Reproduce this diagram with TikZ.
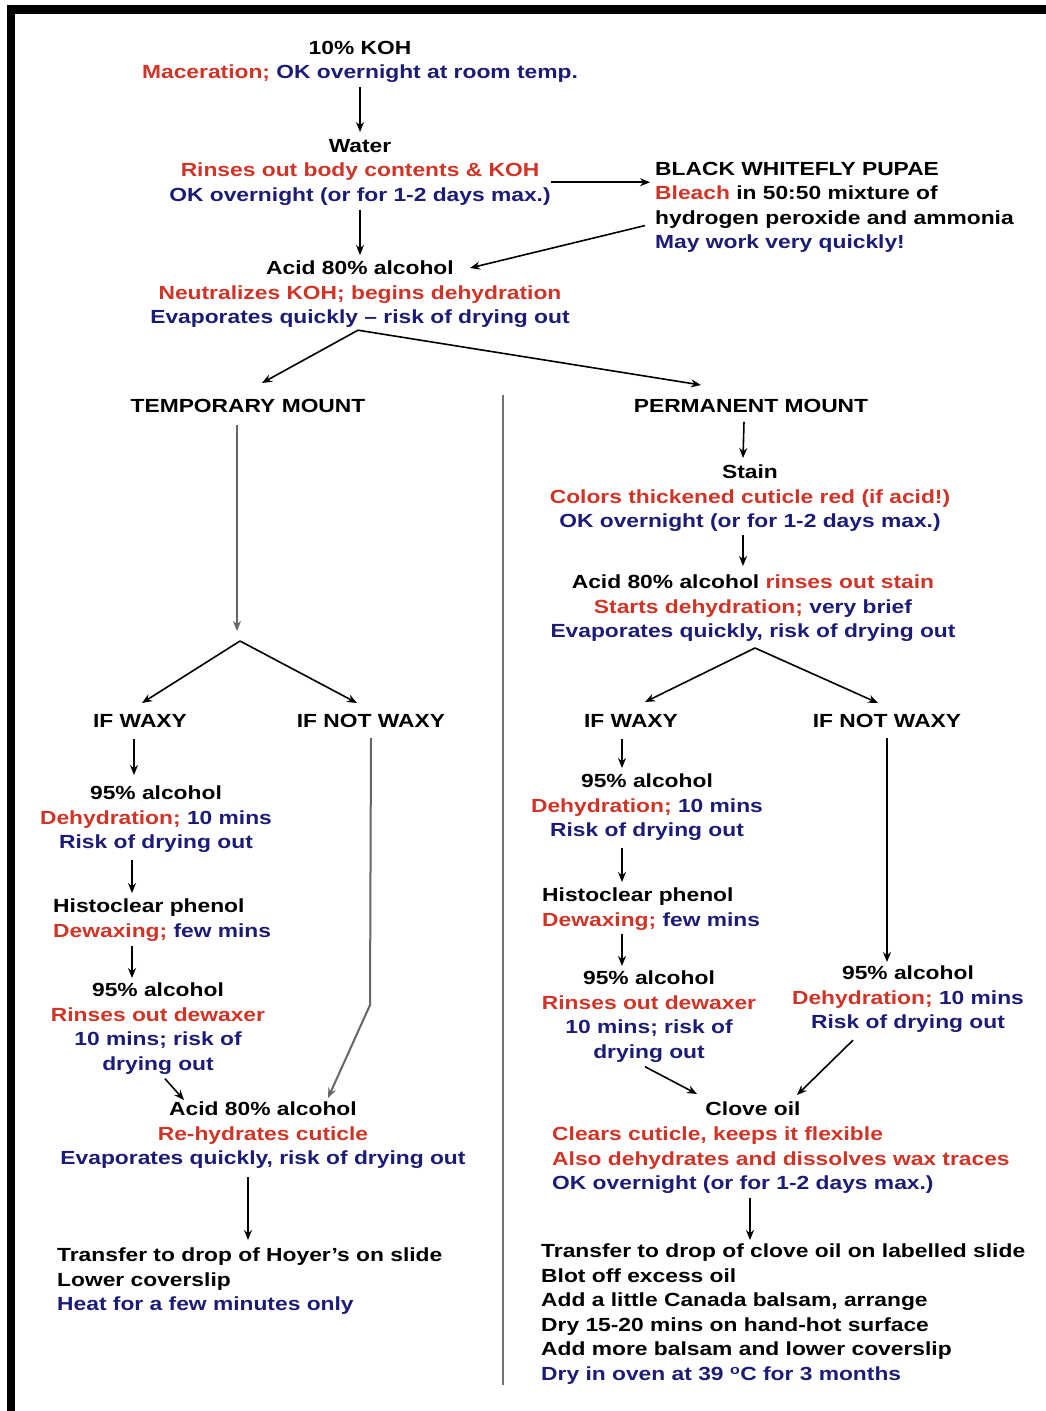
\documentclass[tikz,border=0pt]{standalone}
\usepackage{fontspec}
\setmainfont{Liberation Sans}[FakeStretch=1.2]
\usetikzlibrary{arrows.meta,calc}
\definecolor{kred}{RGB}{208,52,38}
\definecolor{knavy}{RGB}{28,28,118}
\newcommand{\rtxt}[1]{\textcolor{kred}{#1}}
\newcommand{\ntxt}[1]{\textcolor{knavy}{#1}}
\begin{document}
\begin{tikzpicture}[
        x=1pt, y=-1pt,
        txt/.style={inner sep=0pt, anchor=north, align=center, font=\fontsize{19}{24.5}\selectfont\bfseries},
        txtl/.style={txt, anchor=north west, align=left},
        arr/.style={-{Stealth[length=10pt,width=8pt]}, line width=1.6pt},
        grayarr/.style={arr, draw=black!60, line width=2pt}
    ]
    \useasboundingbox (0,0) rectangle (1046,1411);
    % frame (left and top only)
    \fill (7,5) rectangle (15,1411);
    \fill (7,5) rectangle (1046,14);
    % divider
    \draw[black!55, line width=2.5pt] (503,395) -- (503,1385);

    % common steps
    \node[txt] (koh) at (360,41) {10\% KOH\\\rtxt{Maceration;} \ntxt{OK overnight at room temp.}};
    \node[txt] (water) at (360,139) {Water\\\rtxt{Rinses out body contents \& KOH}\\\ntxt{OK overnight (or for 1-2 days max.)}};
    \node[txtl] (pupae) at (655,162) {BLACK WHITEFLY PUPAE\\\rtxt{Bleach} in 50:50 mixture of\\hydrogen peroxide and ammonia\\\ntxt{May work very quickly!}};
    \node[txt] (acid1) at (360,261) {Acid 80\% alcohol\\\rtxt{Neutralizes KOH; begins dehydration}\\\ntxt{Evaporates quickly -- risk of drying out}};
    \node[txt] (temp) at (248,399) {TEMPORARY MOUNT};
    \node[txt] (perm) at (751,399) {PERMANENT MOUNT};

    % temporary mount
    \coordinate (tsplit) at (240,641);
    \node[txt] (twaxy) at (140,714) {IF WAXY};
    \node[txt] (tnwaxy) at (371,714) {IF NOT WAXY};
    \node[txt] (talcA) at (156,786) {95\% alcohol\\\rtxt{Dehydration;} \ntxt{10 mins}\\\ntxt{Risk of drying out}};
    \node[txtl] (thisto) at (53,899) {Histoclear phenol\\\rtxt{Dewaxing;} \ntxt{few mins}};
    \node[txt] (talcB) at (158,983) {95\% alcohol\\\rtxt{Rinses out dewaxer}\\\ntxt{10 mins; risk of}\\\ntxt{drying out}};
    \coordinate (tbend) at (370,1005);
    \node[txt] (tacid) at (263,1102) {Acid 80\% alcohol\\\rtxt{Re-hydrates cuticle}\\\ntxt{Evaporates quickly, risk of drying out}};
    \node[txtl] (thoyer) at (57,1248) {Transfer to drop of Hoyer's on slide\\Lower coverslip\\\ntxt{Heat for a few minutes only}};

    % permanent mount
    \node[txt] (stain) at (750,465) {Stain\\\rtxt{Colors thickened cuticle red (if acid!)}\\\ntxt{OK overnight (or for 1-2 days max.)}};
    \node[txt] (pacid) at (753,575) {Acid 80\% alcohol \rtxt{rinses out stain}\\\rtxt{Starts dehydration;} \ntxt{very brief}\\\ntxt{Evaporates quickly, risk of drying out}};
    \coordinate (psplit) at (755,648);
    \node[txt] (pwaxy) at (631,714) {IF WAXY};
    \node[txt] (pnwaxy) at (887,714) {IF NOT WAXY};
    \node[txt] (palcA) at (647,774) {95\% alcohol\\\rtxt{Dehydration;} \ntxt{10 mins}\\\ntxt{Risk of drying out}};
    \node[txtl] (phisto) at (542,888) {Histoclear phenol\\\rtxt{Dewaxing;} \ntxt{few mins}};
    \node[txt] (palcB) at (649,971) {95\% alcohol\\\rtxt{Rinses out dewaxer}\\\ntxt{10 mins; risk of}\\\ntxt{drying out}};
    \node[txt] (palcC) at (908,966) {95\% alcohol\\\rtxt{Dehydration;} \ntxt{10 mins}\\\ntxt{Risk of drying out}};
    \node[txt] (clove) at (753,1102) {Clove oil};
    \node[txtl] (clovetxt) at (552,1127) {\rtxt{Clears cuticle, keeps it flexible}\\\rtxt{Also dehydrates and dissolves wax traces}\\\ntxt{OK overnight (or for 1-2 days max.)}};
    \node[txtl] (pslide) at (541,1244) {Transfer to drop of clove oil on labelled slide\\Blot off excess oil\\Add a little Canada balsam, arrange\\Dry 15-20 mins on hand-hot surface\\Add more balsam and lower coverslip\\\ntxt{Dry in oven at 39 \textsuperscript{o}C for 3 months}};

    % connectors, top part
    \draw[arr] ([yshift=-4pt]koh.south) -- ([yshift=7pt]water.north);
    \draw[arr] ([yshift=-4pt]water.south) -- ([yshift=6pt]acid1.north);
    \draw[arr] ([yshift=-10pt]water.east) -- ([yshift=-10pt,xshift=-5pt]water.east -| pupae.west);
    \draw[arr] ([shift={(-10pt,-18pt)}]pupae.west) -- ([shift={(110pt,-7pt)}]acid1.north);
    \draw[arr] ([shift={(-2pt,-2pt)}]acid1.south) -- ([shift={(14pt,16pt)}]temp.north);
    \draw[arr] ([shift={(-2pt,-2pt)}]acid1.south) -- ([shift={(-50pt,14pt)}]perm.north);

    % connectors, temporary mount
    \draw[grayarr] ([shift={(-11pt,-12pt)}]temp.south) -- ([shift={(-3pt,10pt)}]tsplit);
    \draw[arr] (tsplit) -- ([shift={(2pt,11pt)}]twaxy.north);
    \draw[arr] (tsplit) -- ([shift={(-14pt,11pt)}]tnwaxy.north);
    \draw[arr] ([shift={(-6pt,-12pt)}]twaxy.south) -- ([shift={(-22pt,11pt)}]talcA.north);
    \draw[arr] ([shift={(-24pt,-7pt)}]talcA.south) -- ([shift={(79pt,6pt)}]thisto.north west);
    \draw[arr] ([shift={(79pt,-4pt)}]thisto.south west) -- ([shift={(-26pt,5pt)}]talcB.north);
    \draw[arr] ([shift={(7pt,-4pt)}]talcB.south) -- ([shift={(-79pt,2pt)}]tacid.north);
    \draw[grayarr] ([yshift=-10pt]tnwaxy.south) -- (tbend) -- ([shift={(65pt,4pt)}]tacid.north);
    \draw[arr] ([shift={(-15pt,-8pt)}]tacid.south) -- ([shift={(191pt,8pt)}]thoyer.north west);

    % connectors, permanent mount
    \draw[arr] ([shift={(-7pt,-9pt)}]perm.south) -- ([shift={(-7pt,7pt)}]stain.north);
    \draw[arr] ([shift={(-7pt,-3pt)}]stain.south) -- ([shift={(-10pt,9pt)}]pacid.north);
    \draw[arr] (psplit) -- ([shift={(14pt,12pt)}]pwaxy.north);
    \draw[arr] (psplit) -- ([shift={(-9pt,11pt)}]pnwaxy.north);
    \draw[arr] ([shift={(-9pt,-12pt)}]pwaxy.south) -- ([shift={(-25pt,6pt)}]palcA.north);
    \draw[arr] ([shift={(-25pt,-7pt)}]palcA.south) -- ([shift={(80pt,6pt)}]phisto.north west);
    \draw[arr] ([shift={(80pt,-3.5pt)}]phisto.south west) -- ([shift={(-27pt,5pt)}]palcB.north);
    \draw[arr] ([yshift=-10pt]pnwaxy.south) -- ([shift={(-21pt,4pt)}]palcC.north);
    \draw[arr] ([shift={(-4pt,-4pt)}]palcB.south) -- ([shift={(-56pt,8pt)}]clove.north);
    \draw[arr] ([shift={(-55pt,-7pt)}]palcC.south) -- ([shift={(44pt,7pt)}]clove.north);
    \draw[arr] ([shift={(198pt,-4pt)}]clovetxt.south west) -- ([shift={(209pt,4pt)}]pslide.north west);
\end{tikzpicture}
\end{document}
